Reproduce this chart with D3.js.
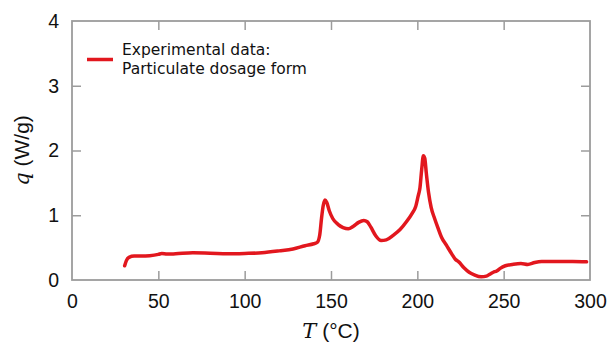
<!DOCTYPE html>
<html>
<head>
<meta charset="utf-8">
<script src="https://cdn.jsdelivr.net/npm/d3@7"></script>
<style>
  html, body { margin: 0; padding: 0; background: #fff; }
  svg { display: block; }
</style>
</head>
<body>
<svg id="chart" width="607" height="344"></svg>
<script>
// Heat flow of the particulate dosage form versus temperature
const temperature = [30.5, 31.5, 33, 36, 40, 45, 50, 52, 55, 60, 70, 80, 90, 100, 110, 120, 128, 135, 140, 142,
  143.5, 144.5, 145.5, 146.5, 147.5, 149, 151, 154, 157, 160, 163, 166, 169, 171, 173, 176, 179, 182, 186, 190,
  194, 197, 199, 200.5, 201.5, 202.5, 203.5, 204.3, 205.2, 206.5, 208, 210, 212, 214, 217, 220, 222, 224, 227, 230,
  233, 237, 240, 242, 244, 246, 248, 251, 255, 260, 264, 268, 272, 280, 290, 298];
const heatFlow = [0.22, 0.30, 0.35, 0.37, 0.37, 0.375, 0.395, 0.41, 0.40, 0.405, 0.42, 0.415, 0.405, 0.41, 0.42, 0.45, 0.48, 0.53, 0.56, 0.58,
  0.70, 0.95, 1.15, 1.235, 1.20, 1.07, 0.95, 0.86, 0.81, 0.79, 0.83, 0.89, 0.92, 0.90, 0.82, 0.68, 0.61, 0.62, 0.69, 0.78,
  0.91, 1.03, 1.13, 1.30, 1.42, 1.70, 1.92, 1.88, 1.65, 1.35, 1.12, 0.95, 0.80, 0.66, 0.53, 0.40, 0.32, 0.28, 0.19, 0.12,
  0.08, 0.05, 0.06, 0.09, 0.12, 0.14, 0.18, 0.22, 0.24, 0.255, 0.24, 0.27, 0.285, 0.285, 0.285, 0.28];
const xTicks = [0, 50, 100, 150, 200, 250, 300];
const yTicks = [0, 1, 2, 3, 4];
const legendLines = ["Experimental data:", "Particulate dosage form"];

const svg = d3.select("#chart");
const frame = { left: 72, right: 590, top: 21, bottom: 280 };
const x = d3.scaleLinear().domain([0, 300]).range([frame.left, frame.right]);
const y = d3.scaleLinear().domain([0, 4]).range([frame.bottom, frame.top]);

const frameColor = "#9c9c9c";
const tickFont = "'Liberation Sans', Arial, sans-serif";
const tickLen = 9;

// Axes with inward ticks on all four sides
const axisStyle = g => {
  g.select(".domain").remove();
  g.selectAll(".tick line").attr("stroke", frameColor).attr("stroke-width", 1.5);
  g.selectAll(".tick text").attr("fill", "#111").style("font-family", tickFont).style("font-size", "19.5px");
};

svg.append("g")
  .attr("transform", `translate(0,${frame.bottom})`)
  .call(d3.axisBottom(x).tickValues(xTicks).tickFormat(d3.format("d")).tickSize(-tickLen).tickPadding(14))
  .call(axisStyle);
svg.append("g")
  .attr("transform", `translate(0,${frame.top})`)
  .call(d3.axisTop(x).tickValues(xTicks).tickFormat("").tickSize(-tickLen))
  .call(axisStyle);
svg.append("g")
  .attr("transform", `translate(${frame.left},0)`)
  .call(d3.axisLeft(y).tickValues(yTicks).tickFormat(d3.format("d")).tickSize(-tickLen).tickPadding(13))
  .call(axisStyle);
svg.append("g")
  .attr("transform", `translate(${frame.right},0)`)
  .call(d3.axisRight(y).tickValues(yTicks).tickFormat("").tickSize(-tickLen))
  .call(axisStyle);

// hide end ticks that coincide with the frame
svg.selectAll(".tick").filter(d => d === 0 || d === 300 || d === 4).select("line").remove();

svg.append("rect")
  .attr("x", frame.left).attr("y", frame.top)
  .attr("width", frame.right - frame.left).attr("height", frame.bottom - frame.top)
  .attr("fill", "none").attr("stroke", frameColor).attr("stroke-width", 1.8);

// Measured curve
const data = temperature.map((t, i) => [t, heatFlow[i]]);
const line = d3.line().x(d => x(d[0])).y(d => y(d[1])).curve(d3.curveMonotoneX);
svg.append("path")
  .datum(data)
  .attr("d", line)
  .attr("fill", "none")
  .attr("stroke", "#e2171e")
  .attr("stroke-width", 3.5)
  .attr("stroke-linejoin", "round")
  .attr("stroke-linecap", "round");

// Legend
svg.append("line")
  .attr("x1", 87).attr("x2", 113).attr("y1", 59.5).attr("y2", 59.5)
  .attr("stroke", "#e2171e").attr("stroke-width", 3.5);
svg.append("text")
  .attr("x", 122).attr("y", 55)
  .style("font-family", "'DejaVu Sans', sans-serif").style("font-size", "15.5px").attr("fill", "#111")
  .selectAll("tspan").data(legendLines).join("tspan")
  .attr("x", 122).attr("dy", (d, i) => i === 0 ? 0 : 19)
  .text(d => d);

// Axis titles
const yTitle = svg.append("text")
  .attr("transform", `translate(29,${(frame.top + frame.bottom) / 2}) rotate(-90)`)
  .attr("text-anchor", "middle")
  .style("font-family", tickFont).style("font-size", "21px").attr("fill", "#111");
yTitle.append("tspan").style("font-family", "'DejaVu Serif', serif").style("font-style", "italic").text("q");
yTitle.append("tspan").text(" (W/g)");

const xTitle = svg.append("text")
  .attr("x", (frame.left + frame.right) / 2).attr("y", 338)
  .attr("text-anchor", "middle")
  .style("font-family", tickFont).style("font-size", "21px").attr("fill", "#111");
xTitle.append("tspan").style("font-family", "'DejaVu Serif', serif").style("font-style", "italic").text("T");
xTitle.append("tspan").text(" (°C)");
</script>
</body>
</html>
